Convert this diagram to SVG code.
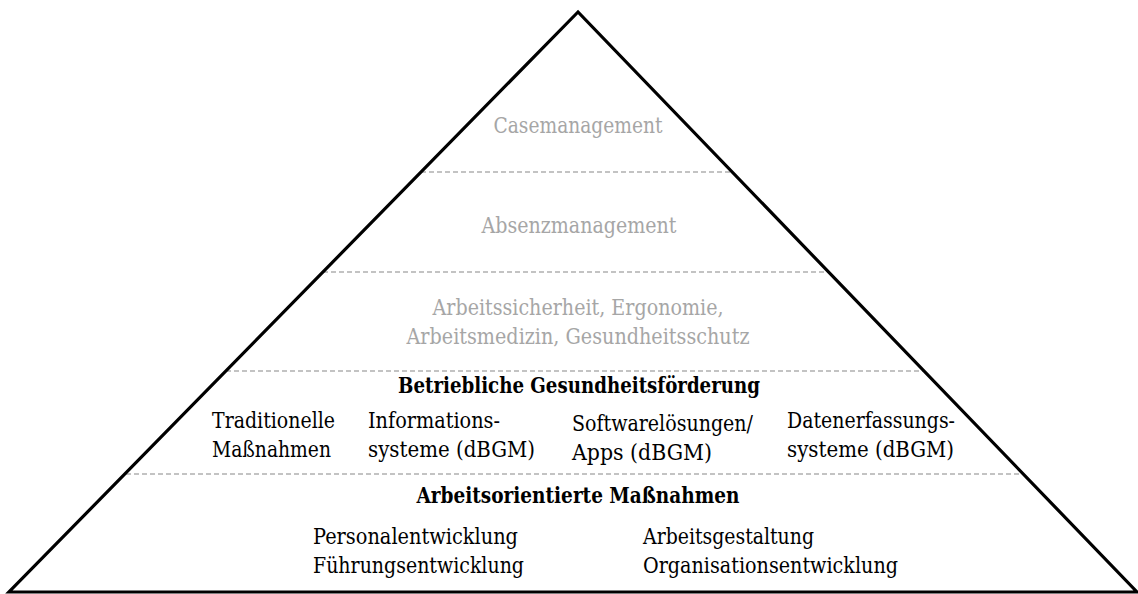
<svg xmlns="http://www.w3.org/2000/svg" width="1138" height="594" viewBox="0 0 1138 594">
  <style>
    text { font-family: "DejaVu Serif", serif; font-size: 21.5px; fill: #000; }
    .g { fill: #a6a6a6; }
    .b { font-weight: bold; }
    .c { text-anchor: middle; }
    .sep { stroke: #b0b0b0; stroke-width: 1.3; stroke-dasharray: 5 3; fill: none; }
  </style>
  <rect width="1138" height="594" fill="#fff"/>

  <!-- level separators -->
  <g id="connectors">
    <line class="sep" x1="421" y1="172" x2="732" y2="172"/>
    <line class="sep" x1="323" y1="272" x2="829" y2="272"/>
    <line class="sep" x1="226" y1="371" x2="925" y2="371"/>
    <line class="sep" x1="126" y1="474" x2="1024" y2="474"/>
  </g>

  <!-- pyramid outline -->
  <g id="pyramid">
    <polygon points="578,12 9,592 1137,592" fill="none" stroke="#000" stroke-width="3.2" stroke-linejoin="miter"/>
  </g>

  <g id="casemanagement">
    <text class="g c" x="578" y="133" textLength="169" lengthAdjust="spacingAndGlyphs">Casemanagement</text>
  </g>

  <g id="absenzmanagement">
    <text class="g c" x="579" y="233" textLength="195" lengthAdjust="spacingAndGlyphs">Absenzmanagement</text>
  </g>

  <g id="arbeitsschutz">
    <text class="g c" x="578" y="315" textLength="291" lengthAdjust="spacingAndGlyphs">Arbeitssicherheit, Ergonomie,</text>
    <text class="g c" x="578" y="344" textLength="343" lengthAdjust="spacingAndGlyphs">Arbeitsmedizin, Gesundheitsschutz</text>
  </g>

  <g id="bgf">
    <text class="b c" x="579" y="393" textLength="362" lengthAdjust="spacingAndGlyphs">Betriebliche Gesundheitsförderung</text>
    <g id="traditionelle">
      <text x="212" y="428" textLength="123" lengthAdjust="spacingAndGlyphs">Traditionelle</text>
      <text x="212" y="457" textLength="119" lengthAdjust="spacingAndGlyphs">Maßnahmen</text>
    </g>
    <g id="informationssysteme">
      <text x="368" y="428" textLength="132" lengthAdjust="spacingAndGlyphs">Informations-</text>
      <text x="368" y="457" textLength="167" lengthAdjust="spacingAndGlyphs">systeme (dBGM)</text>
    </g>
    <g id="softwareloesungen">
      <text x="572" y="431" textLength="181" lengthAdjust="spacingAndGlyphs">Softwarelösungen/</text>
      <text x="572" y="460" textLength="140" lengthAdjust="spacingAndGlyphs">Apps (dBGM)</text>
    </g>
    <g id="datenerfassung">
      <text x="787" y="428" textLength="168" lengthAdjust="spacingAndGlyphs">Datenerfassungs-</text>
      <text x="787" y="457" textLength="167" lengthAdjust="spacingAndGlyphs">systeme (dBGM)</text>
    </g>
  </g>

  <g id="arbeitsorientiert">
    <text class="b c" x="578" y="503" textLength="323" lengthAdjust="spacingAndGlyphs">Arbeitsorientierte Maßnahmen</text>
    <g id="personal">
      <text x="313" y="544" textLength="205" lengthAdjust="spacingAndGlyphs">Personalentwicklung</text>
      <text x="313" y="573" textLength="211" lengthAdjust="spacingAndGlyphs">Führungsentwicklung</text>
    </g>
    <g id="organisation">
      <text x="643" y="544" textLength="171" lengthAdjust="spacingAndGlyphs">Arbeitsgestaltung</text>
      <text x="643" y="573" textLength="255" lengthAdjust="spacingAndGlyphs">Organisationsentwicklung</text>
    </g>
  </g>
</svg>
